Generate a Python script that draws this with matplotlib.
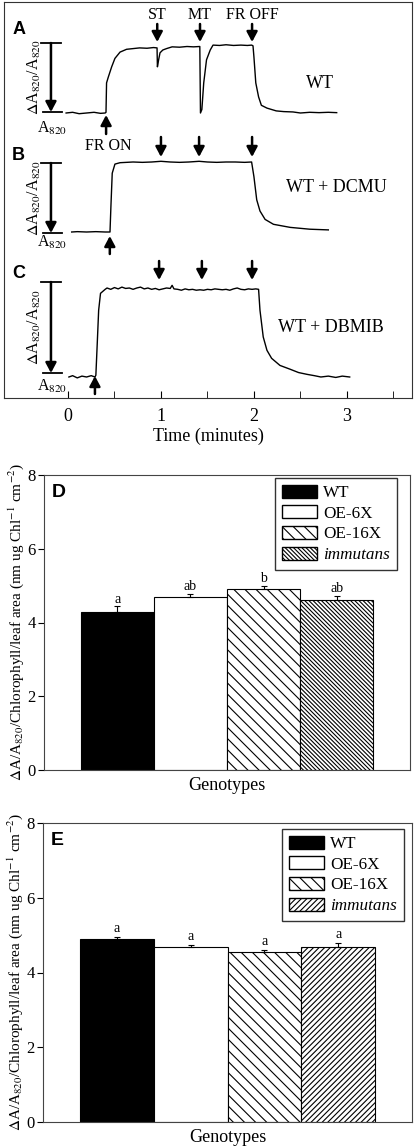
import numpy as np
from matplotlib import pyplot as plt
from matplotlib.patches import Patch

plt.rcParams['font.family'] = ['Liberation Serif', 'DejaVu Serif']
plt.rcParams['mathtext.fontset'] = 'stix'
plt.rcParams['hatch.linewidth'] = 0.8

# part 1: P700 traces (time in minutes, signal as fraction of the scale bar)
time_a = [-0.02, 0.05, 0.12, 0.2, 0.28, 0.35, 0.40, 0.409, 0.415, 0.433, 0.47, 0.505, 0.56,
          0.63, 0.77, 0.85, 0.92, 0.958, 0.962, 0.975, 0.99, 1.02, 1.06, 1.12, 1.2, 1.28,
          1.35, 1.418, 1.425, 1.44, 1.46, 1.49, 1.53, 1.56, 1.63, 1.7, 1.78, 1.86, 1.93,
          1.975, 1.99, 2.0, 2.02, 2.05, 2.08, 2.14, 2.24, 2.32, 2.42, 2.5, 2.6, 2.7, 2.8, 2.89]
signal_a = [0.0, 0.01, -0.01, 0.0, 0.01, -0.005, 0.0, 0.01, 0.43, 0.51, 0.66, 0.78, 0.87,
            0.91, 0.93, 0.925, 0.935, 0.93, 0.66, 0.76, 0.86, 0.9, 0.92, 0.945, 0.94, 0.95,
            0.945, 0.95, 0.0, 0.05, 0.43, 0.76, 0.9, 0.97, 0.965, 0.975, 0.965, 0.97, 0.965,
            0.97, 0.96, 0.8, 0.43, 0.23, 0.11, 0.07, 0.03, 0.02, 0.015, 0.0, 0.01, 0.005, 0.01, 0.005]

time_b = [0.04, 0.1, 0.2, 0.3, 0.4, 0.452, 0.462, 0.476, 0.505, 0.56, 0.7, 0.8, 0.9, 1.0,
          1.1, 1.2, 1.3, 1.41, 1.5, 1.6, 1.7, 1.8, 1.9, 1.975, 2.0, 2.03, 2.065, 2.12,
          2.21, 2.39, 2.6, 2.8]
signal_b = [0.0, 0.005, 0.0, 0.005, 0.0, 0.0, 0.37, 0.84, 0.97, 0.99, 1.0, 0.995, 1.0, 1.01,
            1.0, 0.995, 1.0, 1.01, 1.0, 0.995, 1.0, 1.0, 0.995, 1.0, 0.79, 0.46, 0.3, 0.18,
            0.11, 0.066, 0.04, 0.03]

time_c = [0.01, 0.05, 0.1, 0.15, 0.2, 0.25, 0.29, 0.30, 0.315, 0.33, 0.35, 0.40, 0.42, 0.46,
          0.5, 0.54, 0.58, 0.62, 0.66, 0.70, 0.74, 0.78, 0.82, 0.86, 0.90, 0.94, 0.98, 1.02,
          1.06, 1.1, 1.12, 1.14, 1.18, 1.22, 1.26, 1.3, 1.34, 1.38, 1.42, 1.46, 1.5, 1.54,
          1.58, 1.62, 1.66, 1.7, 1.74, 1.78, 1.82, 1.86, 1.9, 1.94, 1.98, 2.02, 2.05, 2.065,
          2.1, 2.14, 2.19, 2.28, 2.39, 2.48, 2.57, 2.65, 2.72, 2.8, 2.88, 2.95, 3.03]
signal_c = [0.0, 0.015, -0.01, 0.01, 0.0, 0.015, 0.0, 0.02, 0.38, 0.75, 0.94, 0.985, 1.0, 0.985,
            1.005, 0.99, 1.01, 0.995, 1.0, 0.985, 1.0, 1.01, 0.99, 1.0, 0.985, 0.995, 0.98, 0.99,
            1.0, 0.995, 1.03, 0.99, 0.985, 0.975, 0.99, 0.98, 0.985, 0.975, 0.98, 0.975, 0.985, 0.98,
            0.99, 0.985, 0.98, 0.985, 0.975, 0.99, 1.0, 0.985, 0.98, 0.99, 0.985, 0.99, 0.985, 0.75,
            0.45, 0.3, 0.21, 0.13, 0.087, 0.05, 0.03, 0.015, 0.0, 0.01, -0.005, 0.01, 0.0]

events_a = [0.96, 1.42, 1.98]
event_names_a = ['ST', 'MT', 'FR OFF']
events_b = [1.0, 1.41, 1.98]
events_c = [0.98, 1.44, 1.98]
fr_on = [0.41, 0.45, 0.29]
trace_labels = ['WT', 'WT + DCMU', 'WT + DBMIB']

# part 2: bar data
genotypes = ['WT', 'OE-6X', 'OE-16X', 'immutans']
values_d = [4.29, 4.68, 4.91, 4.62]
errors_d = [0.15, 0.10, 0.08, 0.10]
letters_d = ['a', 'ab', 'b', 'ab']
values_e = [4.89, 4.68, 4.55, 4.68]
errors_e = [0.06, 0.05, 0.05, 0.11]
letters_e = ['a', 'a', 'a', 'a']

W, H = 415, 1146


def px_axes(fig, left, top, right, bottom):
    return fig.add_axes([left / W, 1 - bottom / H, (right - left) / W, (bottom - top) / H])


def down_arrow(ax, x, y0, y1):
    ax.annotate('', xy=(x, y1), xytext=(x, y0),
                arrowprops=dict(arrowstyle='-|>,head_length=0.6,head_width=0.32',
                                lw=1.8, color='k', shrinkA=0, shrinkB=0))


def scale_bar(ax, top, bottom, label_y):
    down_arrow(ax, -0.183, top, bottom)
    ax.plot([-0.285, -0.07], [top, top], color='k', lw=1.3)
    ax.plot([-0.27, -0.065], [bottom, bottom], color='k', lw=1.3)
    ax.text(-0.36, (top + bottom) / 2, r'$\Delta$A$_{820}$/A$_{820}$', rotation=90,
            ha='center', va='center', fontsize=11.5)
    ax.text(-0.17, label_y, r'A$_{820}$', ha='center', va='center', fontsize=11.5)


fig = plt.figure(figsize=(W / 100, H / 100), dpi=100)

# part 3: traces panel
ax = px_axes(fig, 4, 2, 412, 398)
ax.set_xlim(-0.688, 3.70)
ax.set_ylim(398, 2)
for s in ax.spines.values():
    s.set_color('#333333')
ax.set_yticks([])
ax.set_xticks([0, 1, 2, 3])
ax.set_xticks([0.5, 1.5, 2.5, 3.5], minor=True)
ax.tick_params(axis='x', which='both', direction='in', length=5, labelsize=13, pad=7)
ax.set_xlabel('Time (minutes)', fontsize=13, labelpad=2)

bases = [113, 232, 377]
scales = [70, 70, 89]
for t, sig, b, sc in zip([time_a, time_b, time_c], [signal_a, signal_b, signal_c], bases, scales):
    ax.plot(t, b - np.array(sig) * sc, color='k', lw=1.0)

scale_bar(ax, 43, 112, 128)
scale_bar(ax, 163, 233, 242)
scale_bar(ax, 282, 373, 386)

for x, name in zip(events_a, event_names_a):
    down_arrow(ax, x, 24, 42)
    ax.text(x, 15, name, ha='center', va='center', fontsize=11.5)
for x in events_b:
    down_arrow(ax, x, 137, 157)
for x in events_c:
    down_arrow(ax, x, 261, 280)

down_arrow(ax, fr_on[0], 134, 115)
ax.text(0.43, 146, 'FR ON', ha='center', va='center', fontsize=11.5)
down_arrow(ax, fr_on[1], 254, 236)
down_arrow(ax, fr_on[2], 394, 376)

ax.text(2.71, 83, trace_labels[0], ha='center', va='center', fontsize=13)
ax.text(2.89, 188, trace_labels[1], ha='center', va='center', fontsize=13)
ax.text(2.83, 328, trace_labels[2], ha='center', va='center', fontsize=13)

for lab, y in zip(['A', 'B', 'C'], [30, 156, 273]):
    ax.text(-0.6, y, lab, ha='left', va='center', fontsize=13, fontweight='bold',
            family='Liberation Sans')


# part 4: bar panels
def bar_panel(box, values, errors, letters, dense_hatch, panel, legend_xy, letter_off):
    ax = px_axes(fig, *box)
    fills = ['black', 'white', 'white', 'white']
    hatches = [None, None, '\\\\\\', dense_hatch]
    x = np.arange(len(values))
    for i in range(len(values)):
        ax.bar(x[i], values[i], width=1, color=fills[i], edgecolor='black', lw=0.8,
               hatch=hatches[i])
    ax.errorbar(x, values, yerr=[np.zeros(len(values)), errors], fmt='none', ecolor='k',
                elinewidth=0.8, capsize=2.5, capthick=0.8)
    for i in range(len(values)):
        ax.text(x[i], values[i] + errors[i] + letter_off, letters[i], ha='center',
                va='bottom', fontsize=10)
    ax.set_xlim(-1, 4)
    ax.set_ylim(0, 8)
    ax.set_yticks([0, 2, 4, 6, 8])
    ax.set_xticks([])
    ax.tick_params(axis='y', direction='out', length=4, labelsize=12, pad=2)
    for s in ax.spines.values():
        s.set_color('#444444')
    ax.set_xlabel('Genotypes', fontsize=13, labelpad=5)
    ax.set_ylabel(r'$\Delta$A/A$_{820}$/Chlorophyll/leaf area (nm ug Chl$^{-1}$ cm$^{-2}$)',
                  fontsize=11, labelpad=1)
    ax.text(0.02, 0.94, panel, transform=ax.transAxes, fontsize=14, fontweight='bold',
            family='Liberation Sans', va='center')
    handles = [Patch(facecolor=fills[i], edgecolor='k', hatch=hatches[i], label=genotypes[i])
               for i in range(4)]
    leg = ax.legend(handles=handles, loc='upper right', bbox_to_anchor=legend_xy,
                    fontsize=12.3, fancybox=False, handlelength=2.05, handleheight=0.78,
                    labelspacing=0.25, handletextpad=0.35, borderpad=0.4, borderaxespad=0)
    leg.get_frame().set_edgecolor('k')
    leg.get_frame().set_linewidth(1)
    leg.get_texts()[3].set_fontstyle('italic')
    return ax


bar_panel((44, 475, 410, 770), values_d, errors_d, letters_d, '\\\\\\\\\\\\\\\\', 'D',
          (0.964, 0.99), 0.02)
bar_panel((43, 823, 412, 1122), values_e, errors_e, letters_e, '//////', 'E',
          (0.978, 0.98), 0.06)

plt.savefig('out.png', dpi=100)
